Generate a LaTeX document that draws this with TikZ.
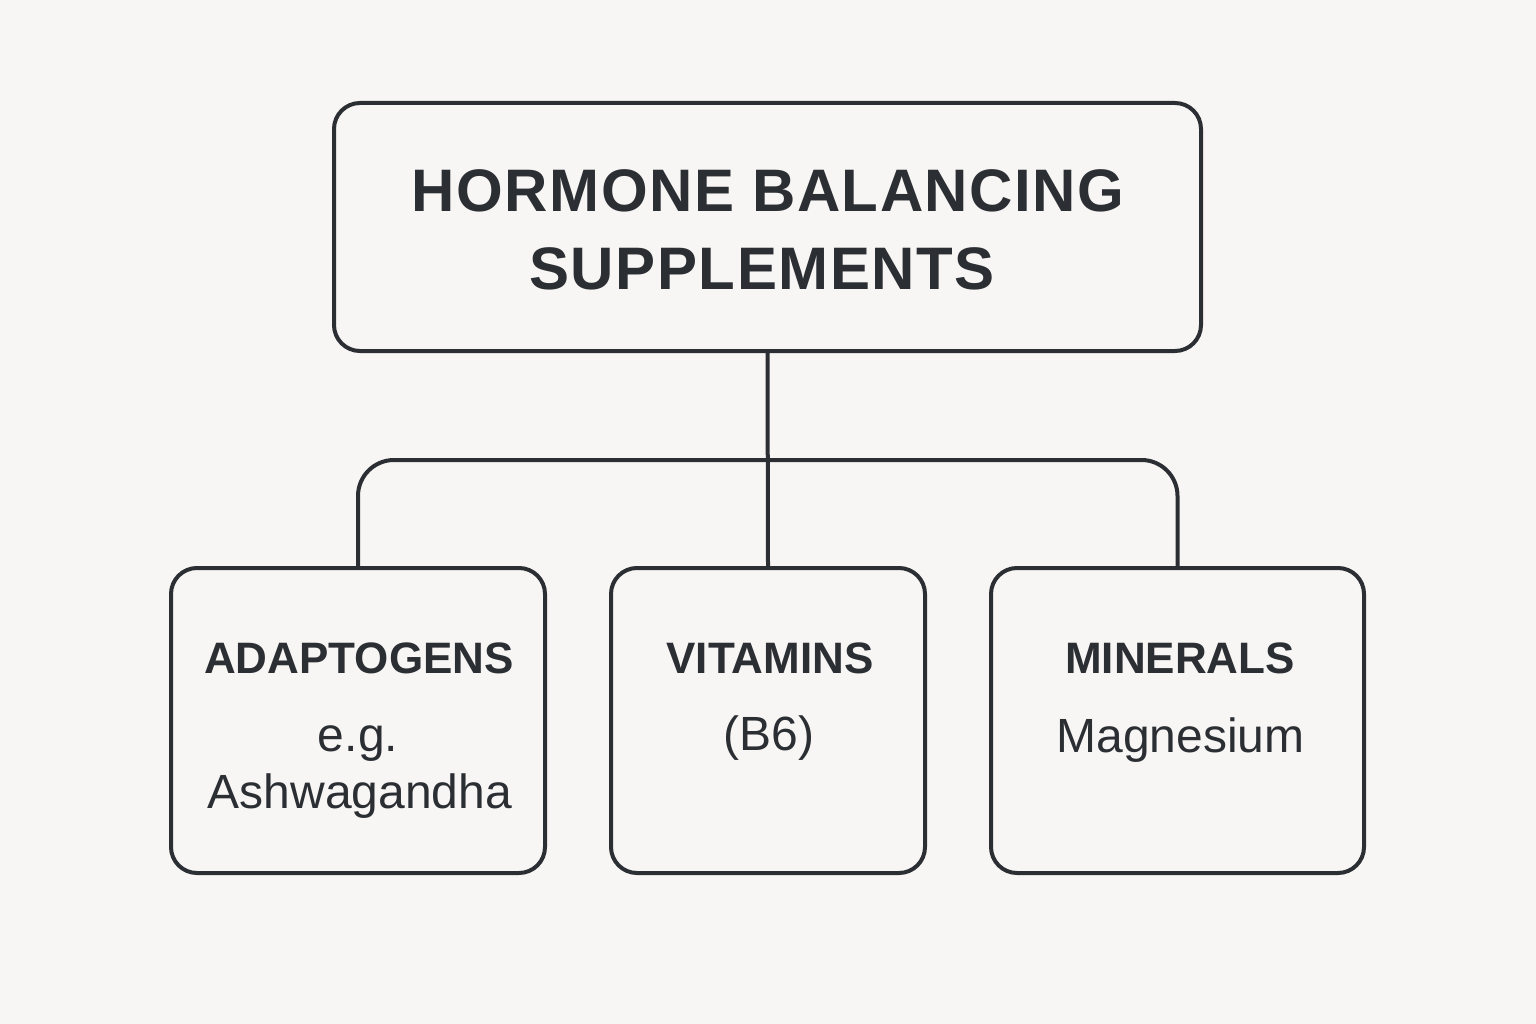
\documentclass[tikz,border=0pt]{standalone}
\usepackage{fontspec}
\setmainfont{Liberation Sans}
\newfontfamily\titlefont[LetterSpace=2.5]{Liberation Sans Bold}
\definecolor{ink}{HTML}{2B2F34}
\definecolor{paper}{HTML}{F8F6F4}
\begin{document}
\begin{tikzpicture}[x=1pt,y=-1pt,
  box/.style={draw=ink,line width=4pt,rounded corners=26pt,fill=paper,inner sep=0pt},
  conn/.style={draw=ink,line width=4pt,rounded corners=36pt},
  ttl/.style={anchor=base,text=ink,font=\fontsize{60}{72}\titlefont,inner sep=0pt},
  head/.style={anchor=base,text=ink,font=\fontsize{44}{52}\selectfont\bfseries,inner sep=0pt},
  sub/.style={anchor=base,text=ink,font=\fontsize{48}{56}\selectfont,inner sep=0pt}]
\fill[paper] (0,0) rectangle (1536,1024);
\useasboundingbox (0,0) rectangle (1536,1024);
% boxes
\node[box,minimum width=867pt,minimum height=248pt] (T) at (767.5,227) {};
\node[box,minimum width=374pt,minimum height=305pt] (L) at (358,720.5) {};
\node[box,minimum width=314pt,minimum height=305pt] (M) at (768,720.5) {};
\node[box,minimum width=373pt,minimum height=305pt] (R) at (1177.5,720.5) {};
% connectors
\coordinate (bus) at (767,460);
\draw[conn] (L.north) |- (bus) -| (R.north);
\draw[conn] (T.south) -- (M.north);
% texts
\node[ttl] (t1) at (768,212) {HORMONE BALANCING};
\node[ttl] (t2) at (762,290) {SUPPLEMENTS};
\node[head] (h1) at (359,673) {ADAPTOGENS};
\node[sub] (s1a) at (358,751) {e.g.};
\node[sub] (s1b) at (360,808) {Ashwagandha};
\node[head] (h2) at (770,673) {VITAMINS};
\node[sub] (s2) at (769,750) {(B6)};
\node[head] (h3) at (1180,673) {MINERALS};
\node[sub] (s3) at (1180.5,752) {Magnesium};
\end{tikzpicture}
\end{document}
